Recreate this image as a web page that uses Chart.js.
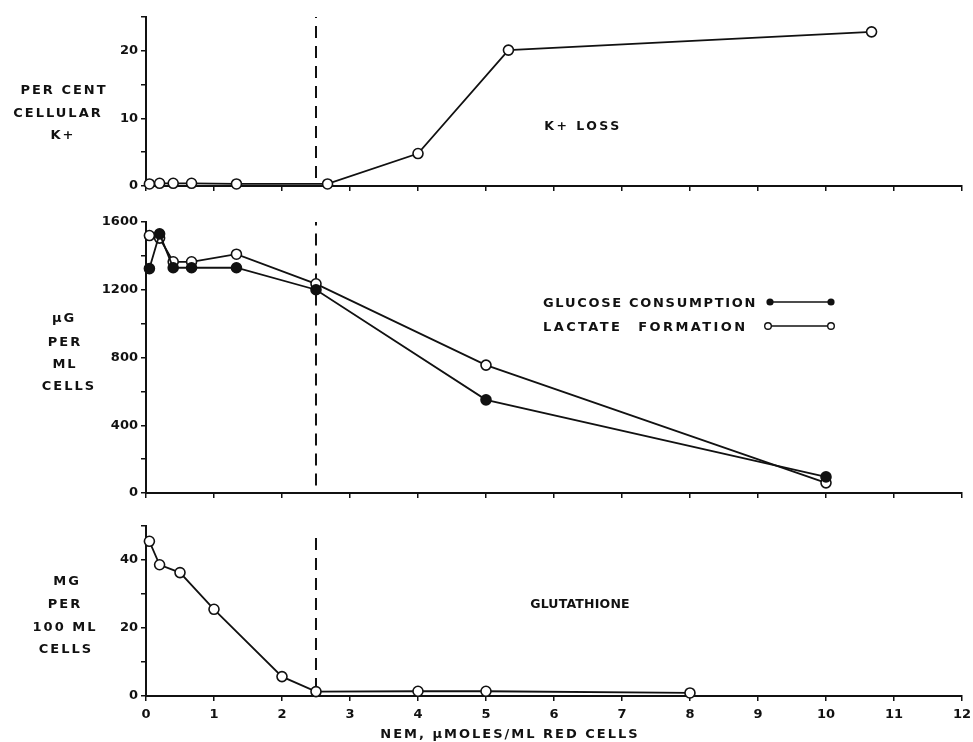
<!DOCTYPE html>
<html>
<head>
<meta charset="utf-8">
<script src="https://cdn.jsdelivr.net/npm/chart.js@4.4.0/dist/chart.umd.min.js"></script>
<style>
  html,body{margin:0;padding:0;background:#fff;}
  body{width:973px;height:742px;position:relative;overflow:hidden;font-family:"DejaVu Sans",sans-serif;font-weight:bold;color:#111;}
  canvas{position:absolute;left:0;}
  .t{position:absolute;white-space:nowrap;font-size:13px;line-height:1;letter-spacing:2px;transform:translate(-50%,-50%);}
  .l{transform:translate(0,-50%);}
  svg{position:absolute;left:0;top:0;}
</style>
</head>
<body>
<canvas id="cK" width="973" height="200" style="top:0px"></canvas>
<canvas id="cG" width="973" height="307" style="top:200px"></canvas>
<canvas id="cS" width="977" height="222" style="top:507px"></canvas>

<div class="t" style="left:64px;top:89px">PER CENT</div>
<div class="t" style="left:58px;top:112px">CELLULAR</div>
<div class="t" style="left:63px;top:134px">K+</div>

<div class="t" style="left:64px;top:317px">µG</div>
<div class="t" style="left:65px;top:341px">PER</div>
<div class="t" style="left:65px;top:363px">ML</div>
<div class="t" style="left:69px;top:385px">CELLS</div>

<div class="t" style="left:67px;top:580px">MG</div>
<div class="t" style="left:65px;top:603px">PER</div>
<div class="t" style="left:65px;top:626px">100 ML</div>
<div class="t" style="left:66px;top:648px">CELLS</div>

<div class="t" style="left:583px;top:126px;letter-spacing:2.5px;font-size:12.5px">K+ LOSS</div>
<div class="t" style="left:580px;top:604px;letter-spacing:0.2px;font-size:12.5px">GLUTATHIONE</div>
<div class="t l" style="left:543px;top:302px;letter-spacing:1.7px">GLUCOSE CONSUMPTION</div>
<div class="t l" style="left:543px;top:326px;letter-spacing:2.4px;word-spacing:9px">LACTATE FORMATION</div>
<div class="t" style="left:510px;top:733px;letter-spacing:2px">NEM, µMOLES/ML RED CELLS</div>

<svg width="973" height="742">
  <line x1="770" y1="302" x2="831" y2="302" stroke="#111" stroke-width="1.5"/>
  <circle cx="770" cy="302" r="3.6" fill="#111"/>
  <circle cx="831" cy="302" r="3.6" fill="#111"/>
  <line x1="768" y1="326" x2="831" y2="326" stroke="#111" stroke-width="1.5"/>
  <circle cx="768" cy="326" r="3.3" fill="#fff" stroke="#111" stroke-width="1.4"/>
  <circle cx="831" cy="326" r="3.3" fill="#fff" stroke="#111" stroke-width="1.4"/>
</svg>

<script>
// ---- data ----
const xTickLabels = [0,1,2,3,4,5,6,7,8,9,10,11,12];
const yTicksK = [0,10,20];
const yTicksUg = [0,400,800,1200,1600];
const yTicksMg = [0,20,40];

const doseK = [0.05,0.2,0.4,0.67,1.33,2.67,4,5.33,10.67];
const kLoss = [0.3,0.4,0.4,0.4,0.3,0.3,4.8,20.1,22.8];

const doseGL = [0.05,0.2,0.4,0.67,1.33,2.5,5,10];
const glucose = [1325,1530,1330,1330,1330,1200,550,95];
const lactate = [1520,1505,1365,1365,1410,1235,755,60];

const doseGSH = [0.05,0.2,0.5,1,2,2.5,4,5,8];
const glutathione = [45.5,38.6,36.3,25.5,5.7,1.3,1.4,1.4,0.9];

const nemThreshold = 2.5;

// ---- helpers ----
const INK = '#111';
const tickFont = {family:'DejaVu Sans', size:13, weight:'bold'};
function pts(xs, ys){ return xs.map((x,i)=>({x:x, y:ys[i]})); }
function series(xs, ys, filled){
  return {data:pts(xs,ys), borderColor:INK, borderWidth:1.8, tension:0,
    pointRadius:5, pointBorderWidth:1.6, pointBorderColor:INK,
    pointBackgroundColor: filled ? INK : '#fff', clip:false, order:0};
}
function dashed(y0, y1){
  return {data:[{x:nemThreshold,y:y0},{x:nemThreshold,y:y1}], borderColor:INK, borderWidth:2,
    borderDash:[12,8], pointRadius:0, clip:false, order:5};
}
function makeChart(id, datasets, yMax, yStep, yLabels, showX, padTop, xH, padRight){
  return new Chart(document.getElementById(id), {
    type:'line',
    data:{datasets:datasets},
    options:{
      responsive:false, animation:false, devicePixelRatio:1,
      layout:{padding:{top:padTop, right:padRight, left:0, bottom:0}},
      plugins:{legend:{display:false}, tooltip:{enabled:false}},
      scales:{
        x:{type:'linear', min:0, max:12,
          ticks:{stepSize:1, autoSkip:false, maxRotation:0, padding:showX ? 6 : 3, color:INK, font:tickFont,
                 callback:v => (showX && xTickLabels.includes(v)) ? String(v) : ''},
          grid:{display:true, drawOnChartArea:false, drawTicks:true, tickLength:5, color:INK, lineWidth:1.5},
          border:{display:true, color:INK, width:2},
          afterFit:s => { s.height = xH; }
        },
        y:{type:'linear', min:0, max:yMax,
          ticks:{stepSize:yStep, autoSkip:false, padding:3, color:INK, font:tickFont,
                 callback:v => yLabels.includes(v) ? String(v) : ''},
          grid:{display:true, drawOnChartArea:false, drawTicks:true, tickLength:5, color:INK, lineWidth:1.5},
          border:{display:true, color:INK, width:2},
          afterFit:s => { s.width = 146; }
        }
      }
    }
  });
}

makeChart('cK', [series(doseK,kLoss,false), dashed(1.2,25)], 25, 5, yTicksK, false, 17, 14, 11);
makeChart('cG', [series(doseGL,glucose,true), series(doseGL,lactate,false), dashed(45,1600)], 1600, 200, yTicksUg, false, 22, 14, 11);
makeChart('cS', [series(doseGSH,glutathione,false), dashed(1.8,48)], 50, 10, yTicksMg, true, 19, 33, 15);
</script>
</body>
</html>
